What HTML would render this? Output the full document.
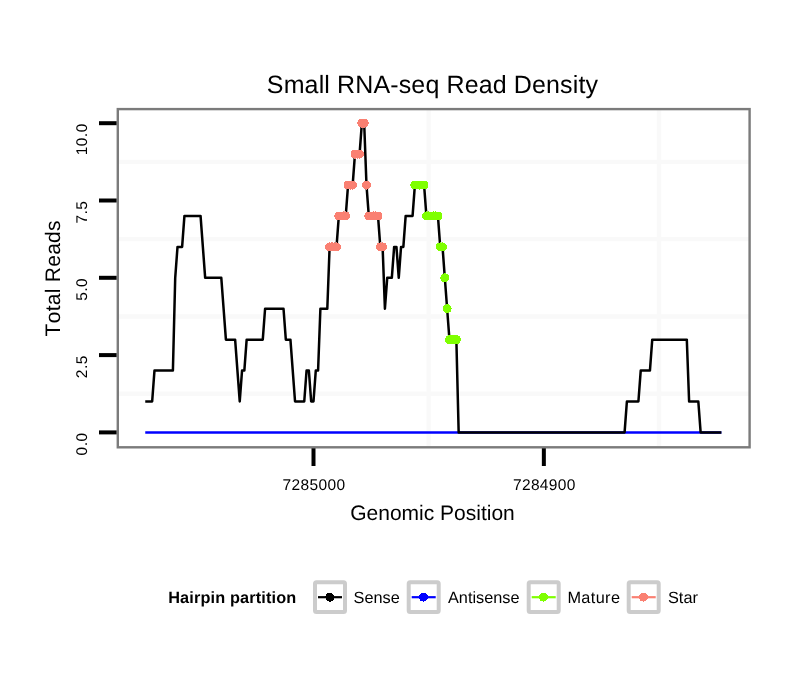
<!DOCTYPE html>
<html><head><meta charset="utf-8"><style>
html,body{margin:0;padding:0;background:#fff;}
body{width:810px;height:690px;overflow:hidden;position:relative;}
svg{position:absolute;left:0;top:0;font-family:"Liberation Sans",sans-serif;}
text{font-kerning:none;text-rendering:geometricPrecision;}
svg{will-change:transform;}
</style></head><body>
<svg width="810" height="690" viewBox="0 0 810 690">
<rect x="0" y="0" width="810" height="690" fill="#fff"/>
<g stroke="#f9f9f9" stroke-width="4.4"><line x1="117.8" y1="393.75" x2="749.6" y2="393.75"/><line x1="117.8" y1="316.45" x2="749.6" y2="316.45"/><line x1="117.8" y1="239.15" x2="749.6" y2="239.15"/><line x1="117.8" y1="161.85" x2="749.6" y2="161.85"/><line x1="428.65" y1="109.1" x2="428.65" y2="447.3"/><line x1="659.00" y1="109.1" x2="659.00" y2="447.3"/></g>
<line x1="145.25" y1="432.40" x2="721.38" y2="432.40" stroke="#0000ff" stroke-width="2.5"/>
<path d="M145.25,401.48 L152.16,401.48 L154.47,370.56 L172.90,370.56 L175.21,277.80 L177.51,246.88 L182.12,246.88 L184.43,215.96 L200.56,215.96 L202.86,246.88 L205.17,277.80 L221.30,277.80 L223.60,308.72 L225.91,339.64 L235.13,339.64 L237.43,370.56 L239.73,401.48 L242.04,370.56 L244.34,370.56 L246.65,339.64 L262.78,339.64 L265.08,308.72 L283.52,308.72 L285.82,339.64 L290.43,339.64 L292.74,370.56 L295.04,401.48 L304.26,401.48 L306.56,370.56 L308.87,370.56 L311.17,401.48 L313.48,401.48 L315.78,370.56 L318.09,370.56 L320.39,308.72 L327.31,308.72 L329.61,246.88 L336.52,246.88 L338.83,215.96 L345.74,215.96 L348.05,185.04 L352.65,185.04 L354.96,154.12 L359.57,154.12 L361.87,123.20 L364.18,123.20 L366.48,185.04 L368.79,215.96 L378.00,215.96 L380.31,246.88 L382.61,246.88 L384.92,308.72 L387.22,277.80 L391.83,277.80 L394.14,246.88 L396.44,246.88 L398.75,277.80 L401.05,246.88 L403.35,246.88 L405.66,215.96 L412.57,215.96 L414.88,185.04 L424.09,185.04 L426.40,215.96 L437.92,215.96 L440.23,246.88 L442.53,246.88 L444.83,277.80 L447.14,308.72 L449.44,339.64 L456.36,339.64 L458.66,432.40 L624.59,432.40 L626.89,401.48 L638.41,401.48 L640.72,370.56 L649.94,370.56 L652.24,339.64 L686.81,339.64 L689.11,401.48 L698.33,401.48 L700.63,432.40 L721.38,432.40" fill="none" stroke="#000" stroke-width="2.5" stroke-linejoin="round" stroke-linecap="butt"/>
<g fill="#fa8072" shape-rendering="crispEdges"><circle cx="329.61" cy="246.88" r="4.5"/><circle cx="331.91" cy="246.88" r="4.5"/><circle cx="334.22" cy="246.88" r="4.5"/><circle cx="336.52" cy="246.88" r="4.5"/><circle cx="338.83" cy="215.96" r="4.5"/><circle cx="341.13" cy="215.96" r="4.5"/><circle cx="343.44" cy="215.96" r="4.5"/><circle cx="345.74" cy="215.96" r="4.5"/><circle cx="348.05" cy="185.04" r="4.5"/><circle cx="350.35" cy="185.04" r="4.5"/><circle cx="352.65" cy="185.04" r="4.5"/><circle cx="354.96" cy="154.12" r="4.5"/><circle cx="357.26" cy="154.12" r="4.5"/><circle cx="359.57" cy="154.12" r="4.5"/><circle cx="361.87" cy="123.20" r="4.5"/><circle cx="364.18" cy="123.20" r="4.5"/><circle cx="366.48" cy="185.04" r="4.5"/><circle cx="368.79" cy="215.96" r="4.5"/><circle cx="371.09" cy="215.96" r="4.5"/><circle cx="373.40" cy="215.96" r="4.5"/><circle cx="375.70" cy="215.96" r="4.5"/><circle cx="378.00" cy="215.96" r="4.5"/><circle cx="380.31" cy="246.88" r="4.5"/><circle cx="382.61" cy="246.88" r="4.5"/></g>
<g fill="#7fff00" shape-rendering="crispEdges"><circle cx="414.88" cy="185.04" r="4.5"/><circle cx="417.18" cy="185.04" r="4.5"/><circle cx="419.49" cy="185.04" r="4.5"/><circle cx="421.79" cy="185.04" r="4.5"/><circle cx="424.09" cy="185.04" r="4.5"/><circle cx="426.40" cy="215.96" r="4.5"/><circle cx="428.70" cy="215.96" r="4.5"/><circle cx="431.01" cy="215.96" r="4.5"/><circle cx="433.31" cy="215.96" r="4.5"/><circle cx="435.62" cy="215.96" r="4.5"/><circle cx="437.92" cy="215.96" r="4.5"/><circle cx="440.23" cy="246.88" r="4.5"/><circle cx="442.53" cy="246.88" r="4.5"/><circle cx="444.83" cy="277.80" r="4.5"/><circle cx="447.14" cy="308.72" r="4.5"/><circle cx="449.44" cy="339.64" r="4.5"/><circle cx="451.75" cy="339.64" r="4.5"/><circle cx="454.05" cy="339.64" r="4.5"/><circle cx="456.36" cy="339.64" r="4.5"/></g>
<rect x="117.8" y="109.1" width="631.80" height="338.20" fill="none" stroke="#7b7b7b" stroke-width="2.4"/>
<g stroke="#000" stroke-width="4"><line x1="99" y1="432.40" x2="116.6" y2="432.40"/><line x1="99" y1="355.10" x2="116.6" y2="355.10"/><line x1="99" y1="277.80" x2="116.6" y2="277.80"/><line x1="99" y1="200.50" x2="116.6" y2="200.50"/><line x1="99" y1="123.20" x2="116.6" y2="123.20"/><line x1="313.5" y1="448.3" x2="313.5" y2="466"/><line x1="543.85" y1="448.3" x2="543.85" y2="466"/></g>
<g font-size="15.5" fill="#000"><text transform="translate(87.2,432.40) rotate(-90)" text-anchor="end" letter-spacing="0.5">0.0</text><text transform="translate(87.2,355.10) rotate(-90)" text-anchor="end" letter-spacing="0.5">2.5</text><text transform="translate(87.2,277.80) rotate(-90)" text-anchor="end" letter-spacing="0.5">5.0</text><text transform="translate(87.2,200.50) rotate(-90)" text-anchor="end" letter-spacing="0.5">7.5</text><text transform="translate(87.2,123.20) rotate(-90)" text-anchor="end" letter-spacing="0.5">10.0</text><text transform="translate(314.0,490)" text-anchor="middle" letter-spacing="0.35">7285000</text><text transform="translate(544.35,490)" text-anchor="middle" letter-spacing="0.35">7284900</text></g>
<text x="432.5" y="92.8" font-size="25" letter-spacing="0.13" text-anchor="middle">Small RNA-seq Read Density</text>
<text x="432.5" y="519.9" font-size="21" text-anchor="middle">Genomic Position</text>
<text transform="translate(60.2,278.3) rotate(-90)" font-size="21" letter-spacing="0.27" text-anchor="middle">Total Reads</text>
<text x="168.2" y="603.1" font-size="16.3" font-weight="bold" letter-spacing="0.15">Hairpin partition</text>
<rect x="315.0" y="582.3" width="30" height="29.6" rx="1.5" fill="#fff" stroke="#cccccc" stroke-width="4"/><line x1="318.0" y1="597.2" x2="342.0" y2="597.2" stroke="#000000" stroke-width="2.2"/><circle cx="329.8" cy="597.2" r="4.5" fill="#000000" shape-rendering="crispEdges"/><text x="353.6" y="603.1" font-size="16.3" letter-spacing="0">Sense</text><rect x="408.7" y="582.3" width="30" height="29.6" rx="1.5" fill="#fff" stroke="#cccccc" stroke-width="4"/><line x1="411.7" y1="597.2" x2="435.7" y2="597.2" stroke="#0000ff" stroke-width="2.2"/><circle cx="423.5" cy="597.2" r="4.5" fill="#0000ff" shape-rendering="crispEdges"/><text x="448.0" y="603.1" font-size="16.3" letter-spacing="0">Antisense</text><rect x="528.7" y="582.3" width="30" height="29.6" rx="1.5" fill="#fff" stroke="#cccccc" stroke-width="4"/><line x1="531.7" y1="597.2" x2="555.7" y2="597.2" stroke="#7fff00" stroke-width="2.2"/><circle cx="543.5" cy="597.2" r="4.5" fill="#7fff00" shape-rendering="crispEdges"/><text x="567.4" y="603.1" font-size="16.3" letter-spacing="0.38">Mature</text><rect x="628.7" y="582.3" width="30" height="29.6" rx="1.5" fill="#fff" stroke="#cccccc" stroke-width="4"/><line x1="631.7" y1="597.2" x2="655.7" y2="597.2" stroke="#fa8072" stroke-width="2.2"/><circle cx="643.5" cy="597.2" r="4.5" fill="#fa8072" shape-rendering="crispEdges"/><text x="668.0" y="603.1" font-size="16.3" letter-spacing="0">Star</text>
</svg>
</body></html>
